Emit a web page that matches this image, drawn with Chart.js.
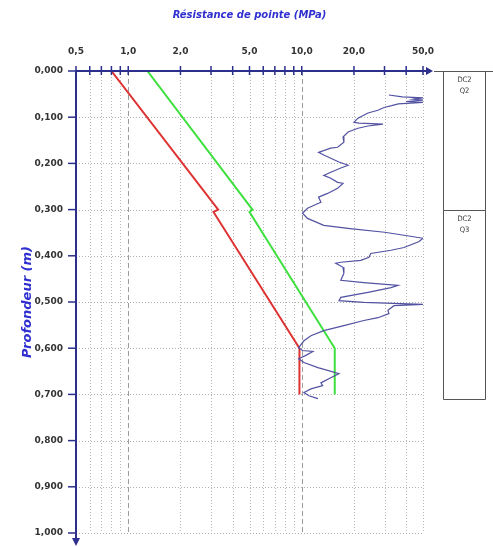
<!DOCTYPE html>
<html>
<head>
<meta charset="utf-8">
<script src="https://cdn.jsdelivr.net/npm/chart.js@4.4.1/dist/chart.umd.min.js"></script>
<style>
  html, body { margin: 0; padding: 0; background: #fff; }
  #wrap { width: 493px; height: 547px; }
</style>
</head>
<body>
<div id="wrap"><canvas id="cpt"></canvas></div>
<script>
// --- axis ticks ---
const qcTicks = [0.5, 0.6, 0.7, 0.8, 0.9, 1, 2, 3, 4, 5, 6, 7, 8, 9, 10, 20, 30, 40, 50];
const qcLabelled = [0.5, 1, 2, 5, 10, 20, 50];
const depthTicks = [0, 0.1, 0.2, 0.3, 0.4, 0.5, 0.6, 0.7, 0.8, 0.9, 1.0];

// --- red and green envelopes (qc in MPa, depth in m) ---
const redQc = [0.80, 3.3, 3.1, 9.7, 9.7];
const redDepth = [0, 0.300, 0.305, 0.600, 0.700];
const greenQc = [1.29, 5.2, 5.0, 15.5, 15.5];
const greenDepth = [0, 0.300, 0.305, 0.600, 0.700];

// --- measured cone resistance ---
const blueQc = [31.8, 38, 50, 44, 50, 40, 50, 36, 33, 29.8, 27.5, 24.1, 21.1, 20.0, 21.4, 29.4, 24.1, 21.1,
  18.5, 17.3, 17.5, 16.1, 14.7, 12.5, 13.4, 14.7, 16.4, 18.5, 16.8, 14.7, 13.4, 14.7, 16.1, 17.3, 16.1,
  14.1, 12.5, 12.9, 11.7, 10.8, 10.1, 10.8, 13.4, 19, 30, 38, 50.0, 47.5, 38.9, 32.7, 25.0, 24.4, 21.9,
  16.8, 15.7, 17.3, 17.5, 16.8, 22.8, 35.9, 32.7, 24.1, 16.8, 16.4, 22.8, 50.0, 34.0, 31.4, 31.8, 27.5,
  22.8, 17.5, 13.4, 11.3, 10.3, 9.6, 10.1, 11.6, 10.5, 9.6, 10.3, 12.4, 16.4, 14.7, 12.9, 13.2, 11.3,
  10.3, 11.0, 12.4];
const blueDepth = [0.052, 0.056, 0.058, 0.061, 0.063, 0.066, 0.068, 0.071, 0.075, 0.079, 0.085, 0.091, 0.102,
  0.111, 0.113, 0.115, 0.119, 0.124, 0.132, 0.143, 0.154, 0.165, 0.167, 0.176, 0.182, 0.189, 0.197, 0.204,
  0.210, 0.219, 0.226, 0.232, 0.241, 0.243, 0.254, 0.265, 0.273, 0.284, 0.291, 0.297, 0.308, 0.319, 0.334,
  0.341, 0.349, 0.355, 0.362, 0.369, 0.382, 0.388, 0.395, 0.403, 0.410, 0.414, 0.416, 0.425, 0.438, 0.453,
  0.458, 0.464, 0.469, 0.479, 0.490, 0.497, 0.501, 0.505, 0.508, 0.518, 0.525, 0.534, 0.540, 0.551, 0.562,
  0.573, 0.584, 0.599, 0.605, 0.607, 0.616, 0.623, 0.631, 0.642, 0.655, 0.664, 0.675, 0.681, 0.688, 0.696,
  0.703, 0.709];

// --- layer column on the right ---
const layerTop = [0, 0.3];
const layerBase = [0.3, 0.71];
const layerCode = ["DC2", "DC2"];
const layerName = ["Q2", "Q3"];

const FONT = "'DejaVu Sans', sans-serif";
const AXIS = "#2c2f8c";
const TITLE_BLUE = "#3030d0";

const pts = (xs, ys) => xs.map((v, i) => ({ x: v, y: ys[i] }));
const fmtQc = (v) => v.toFixed(1).replace(".", ",");
const fmtDepth = (v) => v.toFixed(3).replace(".", ",");

const frame = {
  id: "frame",
  beforeDatasetsDraw(chart) {
    const { ctx, chartArea: a, scales: { x, y } } = chart;
    ctx.save();
    ctx.lineWidth = 1;
    qcTicks.forEach((v, i) => {
      if (i === 0) return;
      const px = Math.round(x.getPixelForValue(v)) + 0.5;
      const decade = v === 1 || v === 10;
      ctx.strokeStyle = decade ? "#9c9c9c" : "#b8b8b8";
      ctx.setLineDash(decade ? [5, 3] : [1, 2]);
      ctx.beginPath();
      ctx.moveTo(px, a.top);
      ctx.lineTo(px, a.bottom);
      ctx.stroke();
    });
    ctx.strokeStyle = "#b0b0b0";
    ctx.setLineDash([1, 2]);
    depthTicks.forEach((d, i) => {
      if (i === 0) return;
      const py = Math.round(y.getPixelForValue(d)) + 0.5;
      ctx.beginPath();
      ctx.moveTo(a.left, py);
      ctx.lineTo(a.right, py);
      ctx.stroke();
    });
    ctx.restore();
  },
  afterDatasetsDraw(chart) {
    const { ctx, chartArea: a, scales: { x, y } } = chart;
    ctx.save();
    ctx.setLineDash([]);
    ctx.strokeStyle = AXIS;
    ctx.fillStyle = AXIS;

    // tick marks
    ctx.lineWidth = 1.5;
    qcTicks.forEach((v) => {
      const px = x.getPixelForValue(v);
      ctx.beginPath();
      ctx.moveTo(px, a.top - 5);
      ctx.lineTo(px, a.top + 4);
      ctx.stroke();
    });
    depthTicks.forEach((d) => {
      const py = y.getPixelForValue(d);
      ctx.beginPath();
      ctx.moveTo(a.left - 8, py);
      ctx.lineTo(a.left, py);
      ctx.stroke();
    });

    // axis lines with arrows
    ctx.lineWidth = 2;
    ctx.beginPath();
    ctx.moveTo(a.left, a.top);
    ctx.lineTo(a.right + 4, a.top);
    ctx.moveTo(a.left, a.top);
    ctx.lineTo(a.left, a.bottom + 6);
    ctx.stroke();
    ctx.beginPath();
    ctx.moveTo(a.right + 10, a.top);
    ctx.lineTo(a.right + 3, a.top - 4);
    ctx.lineTo(a.right + 3, a.top + 4);
    ctx.closePath();
    ctx.fill();
    ctx.beginPath();
    ctx.moveTo(a.left, a.bottom + 13);
    ctx.lineTo(a.left - 4, a.bottom + 5);
    ctx.lineTo(a.left + 4, a.bottom + 5);
    ctx.closePath();
    ctx.fill();

    // layer column
    const boxL = a.right + 20.5, boxR = a.right + 62.5;
    ctx.strokeStyle = "#555";
    ctx.lineWidth = 1;
    const y0 = Math.round(y.getPixelForValue(layerTop[0])) + 0.5;
    ctx.beginPath();
    ctx.moveTo(a.right + 11, y0);
    ctx.lineTo(chart.width, y0);
    ctx.stroke();
    ctx.fillStyle = "#333";
    ctx.font = "7.5px 'Liberation Sans Narrow', 'DejaVu Sans Condensed', sans-serif";
    ctx.textAlign = "center";
    ctx.textBaseline = "middle";
    layerTop.forEach((t, i) => {
      const top = Math.round(y.getPixelForValue(t)) + 0.5;
      const bot = Math.round(y.getPixelForValue(layerBase[i])) + 0.5;
      ctx.beginPath();
      ctx.moveTo(boxL, top);
      ctx.lineTo(boxL, bot);
      ctx.lineTo(boxR, bot);
      ctx.lineTo(boxR, top);
      ctx.lineTo(boxL, top);
      ctx.stroke();
      const cx = (boxL + boxR) / 2;
      ctx.fillText(layerCode[i], cx, top + 9);
      ctx.fillText(layerName[i], cx, top + 20);
    });
    ctx.restore();
  },
};

new Chart(document.getElementById("cpt"), {
  type: "scatter",
  data: {
    datasets: [
      { label: "qc", data: pts(blueQc, blueDepth), borderColor: "#5252a2", borderWidth: 1.2 },
      { label: "red", data: pts(redQc, redDepth), borderColor: "#dd3232", borderWidth: 2 },
      { label: "green", data: pts(greenQc, greenDepth), borderColor: "#3ee03e", borderWidth: 2 },
    ].map((d) => ({ ...d, showLine: true, pointRadius: 0, tension: 0, fill: false })),
  },
  options: {
    responsive: true,
    maintainAspectRatio: false,
    animation: false,
    devicePixelRatio: 1,
    layout: { padding: { left: 0, top: 0, right: 70, bottom: 14 } },
    plugins: { legend: { display: false }, tooltip: { enabled: false } },
    scales: {
      x: {
        type: "logarithmic",
        position: "top",
        min: 0.5,
        max: 50,
        afterBuildTicks: (s) => { s.ticks = qcTicks.map((v) => ({ value: v })); },
        afterFit: (s) => { s.height = 71; },
        ticks: {
          autoSkip: false,
          maxRotation: 0,
          padding: 14,
          color: "#333",
          font: { family: FONT, size: 9, weight: "bold" },
          callback: (v) => (qcLabelled.includes(v) ? fmtQc(v) : ""),
        },
        grid: { display: false, drawTicks: false },
        border: { display: false },
        title: {
          display: true,
          text: "Résistance de pointe (MPa)",
          color: TITLE_BLUE,
          font: { family: FONT, size: 10, weight: "bold", style: "italic" },
          padding: { top: 9, bottom: 0 },
        },
      },
      y: {
        type: "linear",
        reverse: true,
        min: 0,
        max: 1,
        afterBuildTicks: (s) => { s.ticks = depthTicks.map((v) => ({ value: v })); },
        afterFit: (s) => {
          s.width = 76;
          s.paddingTop = 0;
          s.paddingBottom = 0;
        },
        ticks: {
          padding: 13,
          color: "#333",
          font: { family: FONT, size: 9, weight: "bold" },
          callback: (v) => fmtDepth(v),
        },
        grid: { display: false, drawTicks: false },
        border: { display: false },
        title: {
          display: true,
          text: "Profondeur (m)",
          color: TITLE_BLUE,
          font: { family: FONT, size: 13, weight: "bold", style: "italic" },
          padding: { top: 20, bottom: 0 },
        },
      },
    },
  },
  plugins: [frame],
});
</script>
</body>
</html>
